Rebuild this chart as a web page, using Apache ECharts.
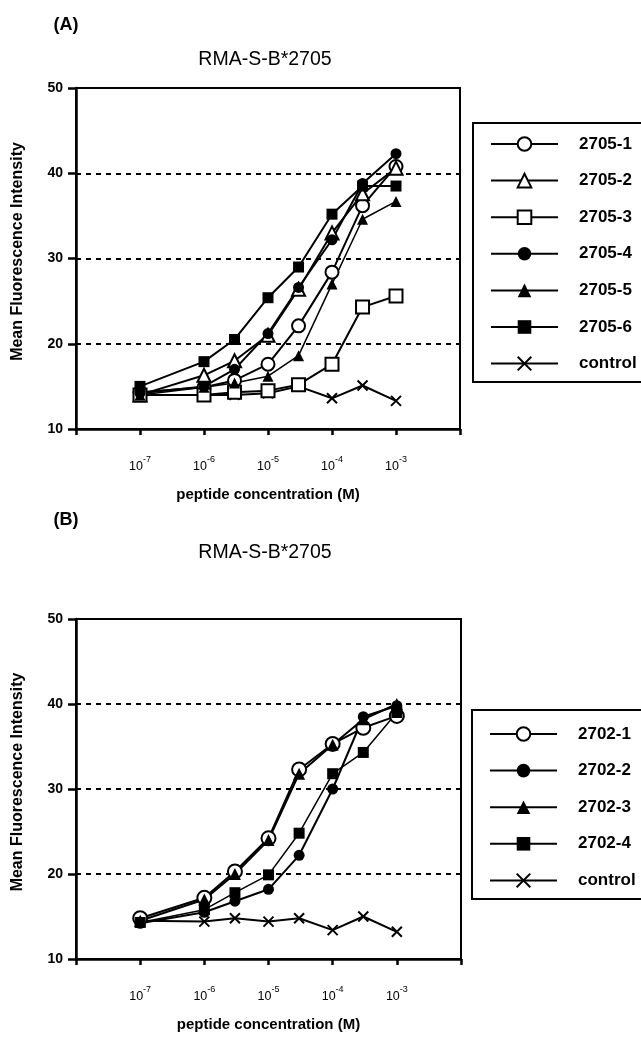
<!DOCTYPE html>
<html>
<head>
<meta charset="UTF-8">
<title>RMA-S-B*2705</title>
<script src="https://cdn.jsdelivr.net/npm/echarts@6/dist/echarts.min.js"></script>
<style>
  html, body { margin: 0; padding: 0; background: #fff; }
  #chart { width: 641px; height: 1047px; }
</style>
</head>
<body>
<div id="chart"></div>
<script>
// peptide concentrations (M)
var conc = [1e-7, 1e-6, 3e-6, 1e-5, 3e-5, 1e-4, 3e-4, 1e-3];

// panel A
var namesA = ['2705-1', '2705-2', '2705-3', '2705-4', '2705-5', '2705-6', 'control'];
var a1 = [14.3, 14.9, 15.7, 17.6, 22.1, 28.4, 36.2, 40.8];
var a2 = [14.0, 16.3, 18.0, 21.0, 26.4, 33.0, 37.6, 40.6];
var a3 = [14.0, 14.0, 14.3, 14.5, 15.2, 17.6, 24.3, 25.6];
var a4 = [14.2, 15.0, 17.0, 21.2, 26.6, 32.2, 38.8, 42.3];
var a5 = [14.0, 14.9, 15.4, 16.2, 18.6, 27.0, 34.6, 36.7];
var a6 = [15.0, 17.9, 20.5, 25.4, 29.0, 35.2, 38.5, 38.5];
var aCtl = [14.0, 14.0, 14.0, 14.2, 15.0, 13.6, 15.1, 13.3];

// panel B
var namesB = ['2702-1', '2702-2', '2702-3', '2702-4', 'control'];
var b1 = [14.8, 17.2, 20.3, 24.2, 32.3, 35.3, 37.2, 38.6];
var b2 = [14.2, 15.5, 16.8, 18.2, 22.2, 30.0, 38.5, 39.8];
var b3 = [14.5, 17.0, 20.0, 24.0, 31.8, 35.2, 38.2, 40.0];
var b4 = [14.3, 15.8, 17.8, 19.9, 24.8, 31.8, 34.3, 39.0];
var bCtl = [14.5, 14.4, 14.8, 14.4, 14.8, 13.4, 15.0, 13.2];

var crossPath = 'path://M0,0L10,10M10,0L0,10';

function pts(vals) {
  return conc.map(function (c, i) { return [c, vals[i]]; });
}

function mk(name, vals, symbol, size, idx, lw) {
  var hollow = symbol.indexOf('empty') === 0;
  return {
    name: name,
    type: 'line',
    xAxisIndex: idx,
    yAxisIndex: idx,
    data: pts(vals),
    symbol: symbol,
    symbolSize: size,
    showAllSymbol: true,
    animation: false,
    lineStyle: { color: '#000', width: lw || 2 },
    itemStyle: {
      color: '#000',
      borderColor: '#000',
      borderWidth: hollow || symbol === crossPath ? 2 : 0
    }
  };
}

var font = '"Liberation Sans", Arial, Helvetica, sans-serif';

function xAx(idx) {
  return {
    type: 'log',
    gridIndex: idx,
    logBase: 10,
    min: 1e-8,
    max: 1e-2,
    splitNumber: 6,
    name: 'peptide concentration (M)',
    nameLocation: 'middle',
    nameGap: 58,
    nameTextStyle: { color: '#000', fontSize: 15, fontWeight: 'bold', fontFamily: font },
    axisLine: { lineStyle: { color: '#000', width: 2.5 } },
    axisTick: { length: 6, lineStyle: { color: '#000', width: 2.5 } },
    minorTick: { show: false },
    splitLine: { show: false },
    axisLabel: {
      margin: 26,
      color: '#000',
      fontFamily: font,
      formatter: function (v) {
        var e = Math.round(Math.log10(v));
        if (e < -7 || e > -3) return '';
        return '{b|10}{s|' + e + '}';
      },
      rich: {
        b: { fontSize: 12.5, fontFamily: font, color: '#000', verticalAlign: 'bottom', lineHeight: 18 },
        s: { fontSize: 9, fontFamily: font, color: '#000', verticalAlign: 'top', lineHeight: 9 }
      }
    }
  };
}

function yAx(idx) {
  return {
    type: 'value',
    gridIndex: idx,
    min: 10,
    max: 50,
    interval: 10,
    name: 'Mean Fluorescence Intensity',
    nameLocation: 'middle',
    nameGap: 50,
    nameTextStyle: { color: '#000', fontSize: 16, fontWeight: 'bold', fontFamily: font, padding: [0, 0, 0, 14] },
    axisLine: { lineStyle: { color: '#000', width: 2.5 } },
    axisTick: { length: 8, lineStyle: { color: '#000', width: 2.5 } },
    axisLabel: { margin: 13, color: '#000', fontSize: 14, fontWeight: 'bold', fontFamily: font },
    splitLine: { show: true, lineStyle: { color: '#000', width: 2, type: [5, 5] } }
  };
}

function legendOf(names, left, top, padTop) {
  return {
    data: names,
    orient: 'vertical',
    left: left,
    top: top,
    itemWidth: 67,
    itemHeight: 17,
    itemGap: 19.6,
    padding: [padTop, 20, 10, 17],
    borderColor: '#000',
    borderWidth: 2,
    selectedMode: false,
    textStyle: { color: '#000', fontSize: 17, fontWeight: 'bold', fontFamily: font, padding: [0, 0, 0, 16] }
  };
}

// control first so the open markers sit on top of it
var series = [
  mk(namesA[6], aCtl, crossPath, 10, 0),
  mk(namesA[0], a1, 'emptyCircle', 13, 0),
  mk(namesA[1], a2, 'emptyTriangle', 13, 0),
  mk(namesA[2], a3, 'emptyRect', 13, 0),
  mk(namesA[3], a4, 'circle', 11, 0),
  mk(namesA[4], a5, 'triangle', 11, 0, 1.5),
  mk(namesA[5], a6, 'rect', 11, 0),
  mk(namesB[4], bCtl, crossPath, 10, 1),
  mk(namesB[0], b1, 'emptyCircle', 14, 1),
  mk(namesB[1], b2, 'circle', 11, 1),
  mk(namesB[2], b3, 'triangle', 12, 1),
  mk(namesB[3], b4, 'rect', 11, 1, 1.5)
];

var chart = echarts.init(document.getElementById('chart'), null, { renderer: 'canvas' });
chart.setOption({
  backgroundColor: '#fff',
  animation: false,
  grid: [
    { left: 76, top: 88, width: 384, height: 341, show: true, borderColor: '#000', borderWidth: 2, backgroundColor: 'transparent' },
    { left: 76, top: 619, width: 385, height: 340, show: true, borderColor: '#000', borderWidth: 2, backgroundColor: 'transparent' }
  ],
  xAxis: [xAx(0), xAx(1)],
  yAxis: [yAx(0), yAx(1)],
  legend: [
    legendOf(namesA, 473, 123, 12.5),
    legendOf(namesB, 472, 710, 15.5)
  ],
  graphic: [
    { type: 'text', style: { x: 66, y: 25, text: '(A)', font: 'bold 18px ' + font, fill: '#000', textAlign: 'center', textVerticalAlign: 'middle' } },
    { type: 'text', style: { x: 265, y: 60, text: 'RMA-S-B*2705', font: '19.5px ' + font, fill: '#000', textAlign: 'center', textVerticalAlign: 'middle' } },
    { type: 'text', style: { x: 66, y: 520, text: '(B)', font: 'bold 18px ' + font, fill: '#000', textAlign: 'center', textVerticalAlign: 'middle' } },
    { type: 'text', style: { x: 265, y: 553, text: 'RMA-S-B*2705', font: '19.5px ' + font, fill: '#000', textAlign: 'center', textVerticalAlign: 'middle' } }
  ],
  series: series
});
</script>
</body>
</html>
